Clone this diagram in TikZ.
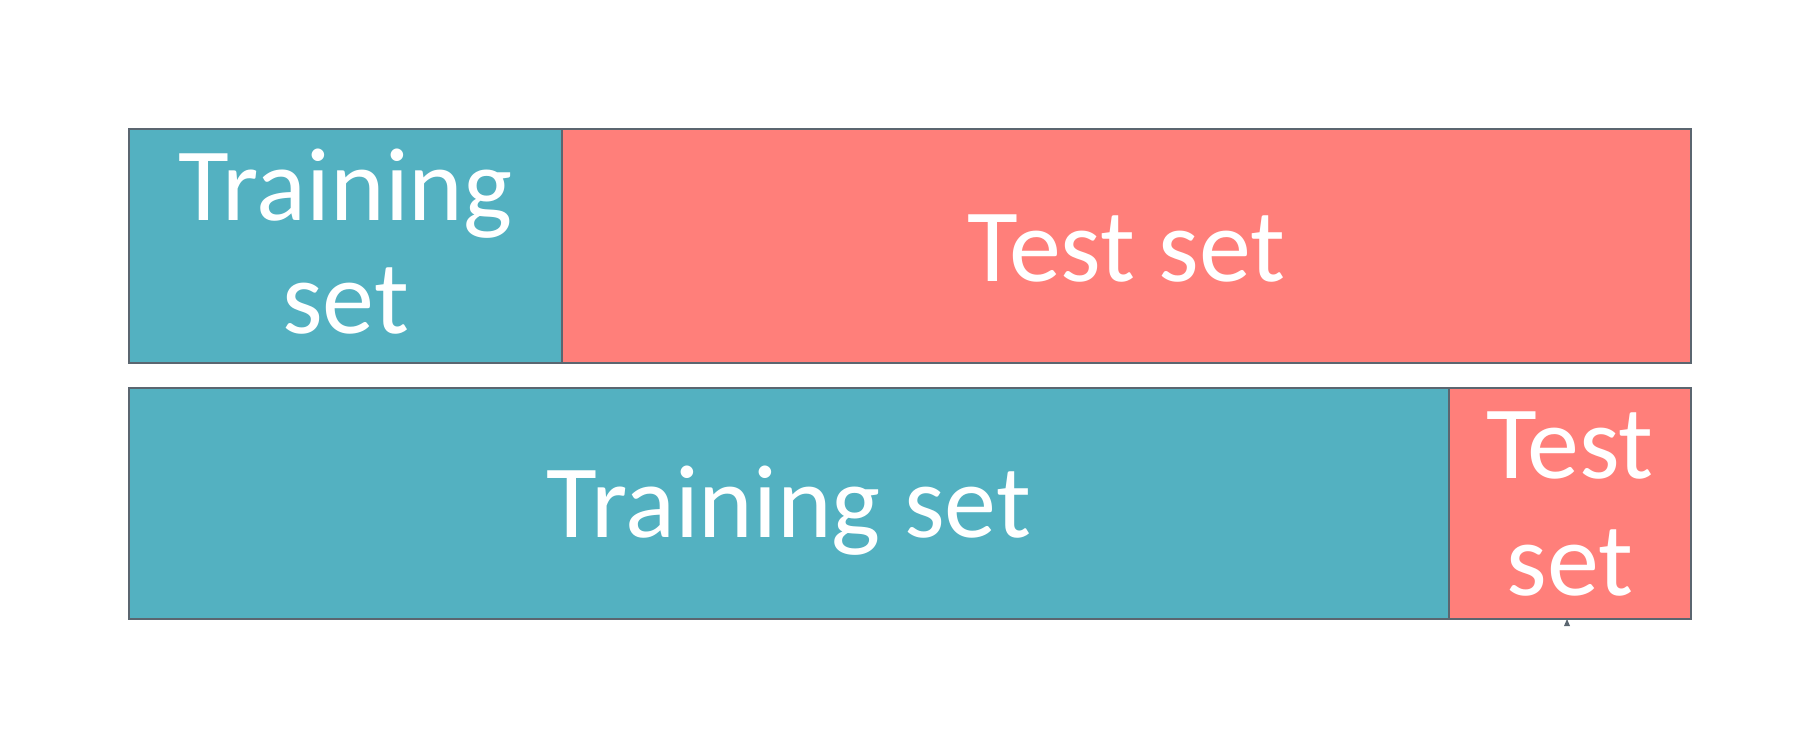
\documentclass[tikz,border=0pt]{standalone}
\usepackage{fontspec}
\setmainfont{Carlito}
\definecolor{tealfill}{HTML}{53B1C1}
\definecolor{salmonfill}{HTML}{FF7F7A}
\definecolor{edgegray}{HTML}{5B6670}
\begin{document}
\begin{tikzpicture}[x=1pt,y=-1pt,
  part/.style={draw=edgegray, line width=2pt, inner sep=0pt, outer sep=0pt, minimum height=234pt},
  lbl/.style={text=white, inner sep=0pt, align=center, anchor=base, font=\fontsize{104}{113}\selectfont}]
\useasboundingbox (0,0) rectangle (1815,733);
\node[part, fill=tealfill, minimum width=433pt] (trA) at (345.5,246) {};
\node[part, fill=salmonfill, minimum width=1129pt] (teA) at (1126.5,246) {};
\node[part, fill=tealfill, minimum width=1320pt, minimum height=231pt] (trB) at (789,503.5) {};
\node[part, fill=salmonfill, minimum width=242pt, minimum height=231pt] (teB) at (1570,503.5) {};
\node[lbl] (tA) at (345.5,333) {Training\\set};
\node[lbl] (sA) at (1126.5,281) {Test set};
\node[lbl] (tB) at (789,537) {Training set};
\node[lbl, font=\fontsize{104}{117}\selectfont] (sB) at (1570,595) {Test\\set};
\fill[edgegray] (1564,626) -- (1567,619) -- (1570,626) -- cycle;
\end{tikzpicture}
\end{document}
